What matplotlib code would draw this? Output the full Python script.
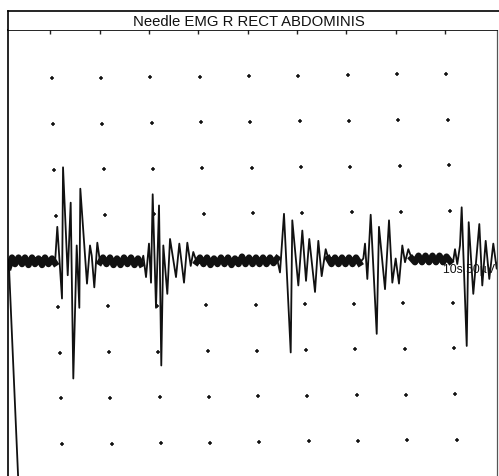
import numpy as np
import matplotlib
matplotlib.use("Agg")
import matplotlib.pyplot as plt
import matplotlib.transforms as mtransforms

plt.rcParams["font.family"] = ["Liberation Sans", "DejaVu Sans"]

TITLE = "Needle EMG R RECT ABDOMINIS"
SCALE_LABEL = "10s 50µV"

# Sweep time (ms) and deflection (uV)
trace_ms = [
    # sweep entry + quiet baseline
    2.49, 0.40, 1.01, 1.62, 2.33, 3.04, 3.64, 4.35, 5.06, 5.67, 6.38, 7.09, 7.69, 8.40, 9.11, 9.72,
    # burst 1
    10.18, 11.13, 11.34, 12.29, 12.89, 13.42, 14.11, 14.64, 14.84, 16.19, 16.80, 17.15, 17.67, 18.28, 18.83,
    # baseline
    19.43, 20.14, 20.85, 21.56, 22.27, 22.98, 23.68, 24.39, 25.10, 25.81, 26.52, 27.13,
    # burst 2
    27.59, 28.14, 28.74, 29.15, 29.49, 30.16, 30.77, 31.23, 31.64, 32.45, 33.00, 33.54, 34.21, 34.88,
    35.83, 36.50, 37.19, 37.71, 38.40,
    # baseline
    39.07, 39.78, 40.49, 41.19, 41.90, 42.61, 43.32, 44.03, 44.74, 45.45, 46.15, 46.86, 47.57, 48.28,
    48.99, 49.70, 50.40, 51.11, 51.82, 52.53, 53.24, 53.95, 54.66,
    # burst 3
    55.26, 56.07, 57.43, 57.75, 58.97, 59.78, 60.53, 61.19, 62.35, 63.02, 63.70, 64.51, 65.04,
    # baseline
    65.69, 66.40, 67.11, 67.81, 68.52, 69.23, 69.94, 70.65, 71.36,
    # burst 4
    72.13, 72.47, 72.94, 73.62, 74.84, 75.30, 76.52, 77.33, 78.00, 78.68, 79.35, 80.02, 80.57, 81.24, 81.92,
    # baseline
    82.59, 83.30, 84.01, 84.72, 85.43, 86.13, 86.84, 87.55, 88.26, 88.97, 89.68,
    # burst 5
    90.34, 90.69, 91.15, 91.70, 92.04, 93.06, 93.46, 94.39, 95.61, 96.21, 96.90, 97.63, 98.44, 99.13, 99.60,
]
trace_uv = [
    -261, -6, 4, -3, 4, -3, 4, -4, 4, -3, 3, -4, 4, -3, 3, -2,
    37, -40, 101, -15, 63, -126, 17, -50, 78, -24, 17, 6, -28, 20, -1,
    4, -3, 4, -4, 3, -4, 4, -3, 4, -4, 3, -3,
    6, -17, 19, -23, 72, -50, 60, -112, 17, -35, 24, 6, -17, 19,
    -23, 20, -5, 10, -1,
    4, -3, 4, -4, 3, -3, 4, -3, 4, -4, 3, -3, 5, -3,
    4, -3, 4, -3, 4, -3, 4, -2, 3,
    -12, 51, -98, 44, -26, 33, -21, 24, -33, 22, -16, 13, 3,
    -3, 4, -3, 4, -3, 4, -3, 4, -2,
    3, 19, -19, 50, -78, 37, -30, 44, -23, 3, -24, 17, -1, 13, 3,
    -1, 6, -1, 6, -1, 6, -1, 6, -1, 5, 0,
    1, 13, -3, 17, 58, -91, 42, -35, 40, -26, 22, -19, 19, -8, 8,
]

# stretches where the baseline noise prints as a thick band
quiet_spans_ms = [(0.3, 9.8), (18.8, 27.2), (38.4, 54.7), (65.0, 71.4), (81.9, 89.7)]

# printed graticule (dots) - 10 ms x 50 uV divisions
grid_ms = [10, 20, 30, 40, 50, 60, 70, 80, 90]
grid_uv = [-200, -150, -100, -50, 50, 100, 150, 200]

t = np.array(trace_ms)
v = np.array(trace_uv, dtype=float)

fig = plt.figure(figsize=(4.99, 4.77), dpi=100)
ax = fig.add_axes([8 / 499, 0, 489 / 499, 446 / 477])
ax.set_xlim(0.2, 99.19)
ax.set_ylim(-230.8, 248.6)

# the scanned graticule is slightly skewed on the page
warp = mtransforms.Affine2D.from_values(0.998, 0.0602, -0.00531, 0.983, 0.15, -0.64)
gt, gv = np.meshgrid(grid_ms, grid_uv)
ax.plot(gt.ravel(), gv.ravel(), "+", color="#111111", ms=3.5, mew=1.1,
        transform=warp + ax.transData)

# trace
ax.plot(t, v, color="#111111", lw=1.3)
quiet = np.zeros(len(t), dtype=bool)
for lo, hi in quiet_spans_ms:
    quiet |= (t >= lo) & (t <= hi)
quiet &= np.abs(v) < 30
ax.plot(t, np.where(quiet, v, np.nan), color="#111111", lw=4.6)

ax.text(88.26, -11.5, SCALE_LABEL, fontsize=8.8, va="baseline", color="#111111")

# frame
tick_x = warp.transform(np.column_stack([grid_ms, np.full(len(grid_ms), 250.0)]))[:, 0]
ax.set_xticks(tick_x)
ax.set_yticks([])
ax.tick_params(axis="x", top=True, bottom=False, labeltop=False, labelbottom=False,
               direction="in", length=3, width=1, color="#222222")
ax.spines["bottom"].set_visible(False)
ax.spines["left"].set_linewidth(1.2)
ax.spines["top"].set_linewidth(1.2)
ax.spines["right"].set_linewidth(0.9)
ax.spines["right"].set_color("#555555")

# title box
tax = fig.add_axes([8 / 499, 446 / 477, 491 / 499, 19 / 477])
tax.set_xticks([])
tax.set_yticks([])
tax.spines["bottom"].set_visible(False)
tax.spines["right"].set_visible(False)
tax.spines["left"].set_linewidth(1.2)
tax.spines["top"].set_linewidth(1.2)
tax.text(0.491, 0.263, TITLE, fontsize=10.7, ha="center", va="baseline",
         color="#111111", transform=tax.transAxes)

fig.savefig("out.png", dpi=100)
